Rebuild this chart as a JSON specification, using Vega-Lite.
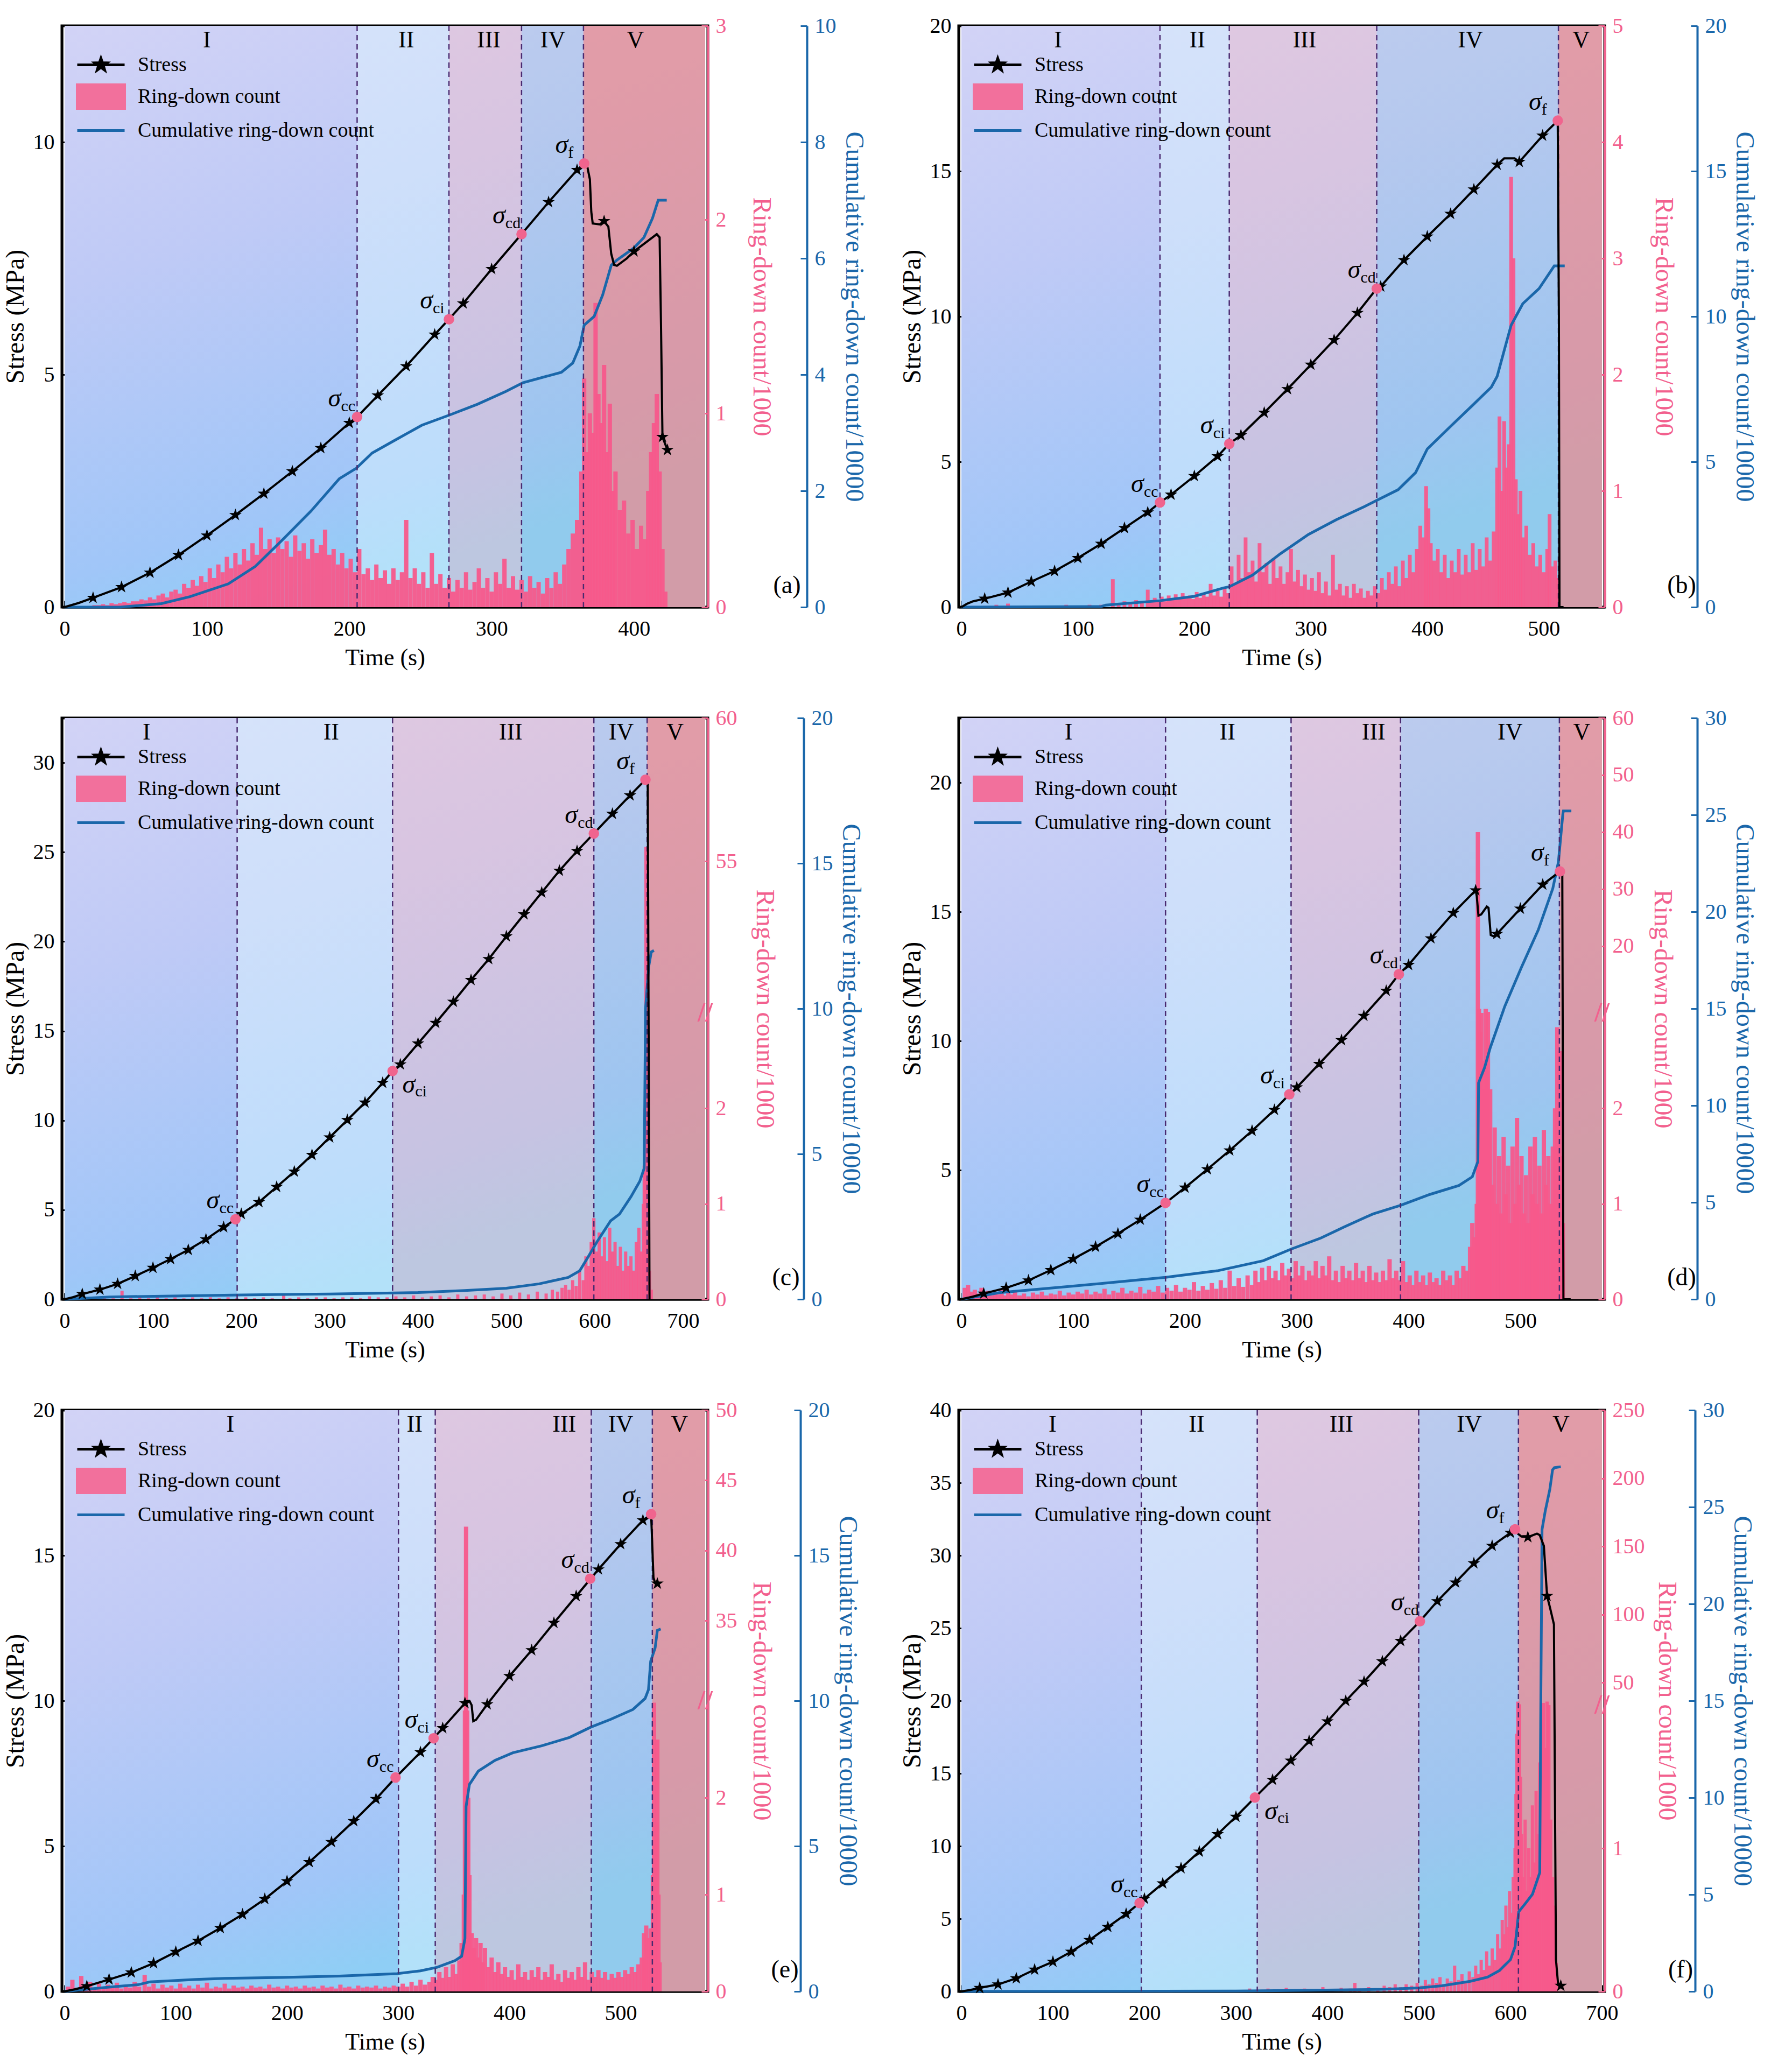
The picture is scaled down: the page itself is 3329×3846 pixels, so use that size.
{
  "$schema": "https://vega.github.io/schema/vega-lite/v6.json",
  "background": "white",
  "padding": {"left": 2, "top": 25, "right": 12, "bottom": 4},
  "columns": 2,
  "spacing": {"row": 64, "column": 56},
  "config": {
    "font": "Liberation Serif",
    "view": {"stroke": "black", "strokeWidth": 5},
    "axis": {
      "grid": false, "labelFontSize": 40, "titleFontSize": 44, "titleFontWeight": "normal",
      "domainWidth": 4, "tickWidth": 3, "tickSize": -12, "labelPadding": 26, "titlePadding": 8,
      "domainColor": "black", "tickColor": "black", "labelColor": "black", "titleColor": "black",
      "zindex": 1, "labelFlush": false, "labelOverlap": false
    },
    "axisX": {"labelPadding": 32, "titlePadding": 12},
    "axisY": {"titleFontSize": 48},
    "legend": {
      "orient": "top-left", "direction": "vertical", "offset": 40, "padding": 8, "title": null,
      "labelFontSize": 38, "labelColor": "black", "labelLimit": 1000, "symbolSize": 1936, "symbolStrokeWidth": 5,
      "symbolOpacity": 1, "labelOffset": 44, "rowPadding": 6, "zindex": 1
    },
    "text": {"fontSize": 46, "color": "black"}
  },
  "datasets": {
    "a_stage": [{"st":"I","t":0,"t2":205.5},{"st":"II","t":205.5,"t2":270},{"st":"III","t":270,"t2":321},{"st":"IV","t":321,"t2":364.5},{"st":"V","t":364.5,"t2":450}],
    "a_lab": [{"st":"I","t":100,"s":12.5},{"st":"II","t":240,"s":12.5},{"st":"III","t":298,"s":12.5},{"st":"IV","t":343,"s":12.5},{"st":"V","t":401,"s":12.5}],
    "a_sig": [{"k":"cc","t":205.5,"s":4.09},{"k":"ci","t":270,"s":6.19},{"k":"cd","t":321,"s":8.02},{"k":"f","t":365,"s":9.54}],
    "a_s": [{"t":0,"s":0},{"t":10,"s":0.09},{"t":20,"s":0.2},{"t":40,"s":0.43},{"t":60,"s":0.74},{"t":80,"s":1.12},{"t":100,"s":1.54},{"t":120,"s":1.98},{"t":140,"s":2.44},{"t":160,"s":2.92},{"t":180,"s":3.42},{"t":200,"s":3.96},{"t":205.5,"s":4.09},{"t":220,"s":4.55},{"t":240,"s":5.18},{"t":260,"s":5.86},{"t":270,"s":6.19},{"t":280,"s":6.53},{"t":300,"s":7.27},{"t":321,"s":8.02},{"t":340,"s":8.71},{"t":360,"s":9.4},{"t":365,"s":9.54},{"t":367,"s":9.5},{"t":369,"s":9.2},{"t":370,"s":8.5},{"t":371,"s":8.25},{"t":376,"s":8.23},{"t":379,"s":8.3},{"t":382,"s":8.18},{"t":384,"s":7.6},{"t":386,"s":7.36},{"t":388,"s":7.34},{"t":395,"s":7.5},{"t":400,"s":7.65},{"t":410,"s":7.88},{"t":416,"s":8.02},{"t":418,"s":7.95},{"t":419,"s":6.0},{"t":420,"s":3.66},{"t":423.5,"s":3.38}],
    "a_star": [{"t":20,"s":0.2},{"t":40,"s":0.43},{"t":60,"s":0.74},{"t":80,"s":1.12},{"t":100,"s":1.54},{"t":120,"s":1.98},{"t":140,"s":2.44},{"t":160,"s":2.92},{"t":180,"s":3.42},{"t":200,"s":3.96},{"t":220,"s":4.55},{"t":240,"s":5.18},{"t":260,"s":5.86},{"t":280,"s":6.53},{"t":300,"s":7.27},{"t":340,"s":8.71},{"t":360,"s":9.4},{"t":379,"s":8.3},{"t":400,"s":7.65},{"t":420,"s":3.66},{"t":423.5,"s":3.38}],
    "a_cum": [{"t":0,"c":0},{"t":39,"c":0},{"t":68,"c":0.06},{"t":88,"c":0.18},{"t":115,"c":0.4},{"t":134,"c":0.7},{"t":154,"c":1.18},{"t":173,"c":1.65},{"t":193,"c":2.21},{"t":205,"c":2.39},{"t":216,"c":2.65},{"t":232,"c":2.87},{"t":251,"c":3.13},{"t":271,"c":3.31},{"t":290,"c":3.49},{"t":310,"c":3.71},{"t":322,"c":3.86},{"t":349,"c":4.04},{"t":357,"c":4.2},{"t":362,"c":4.49},{"t":365,"c":4.85},{"t":372,"c":5.0},{"t":378,"c":5.37},{"t":384,"c":5.88},{"t":388,"c":5.97},{"t":400,"c":6.18},{"t":407,"c":6.36},{"t":413,"c":6.69},{"t":417,"c":7.0},{"t":423,"c":7.0}],
    "a_rd": [{"t":21,"r":0.01},{"t":24,"r":0.01},{"t":27,"r":0.015},{"t":30,"r":0.01},{"t":33,"r":0.02},{"t":36,"r":0.015},{"t":39,"r":0.02},{"t":42,"r":0.025},{"t":45,"r":0.02},{"t":48,"r":0.03},{"t":51,"r":0.03},{"t":54,"r":0.04},{"t":57,"r":0.035},{"t":60,"r":0.05},{"t":63,"r":0.04},{"t":66,"r":0.06},{"t":69,"r":0.07},{"t":72,"r":0.05},{"t":75,"r":0.08},{"t":78,"r":0.09},{"t":81,"r":0.07},{"t":84,"r":0.12},{"t":87,"r":0.1},{"t":90,"r":0.14},{"t":93,"r":0.11},{"t":96,"r":0.16},{"t":99,"r":0.13},{"t":102,"r":0.2},{"t":105,"r":0.15},{"t":108,"r":0.22},{"t":111,"r":0.18},{"t":114,"r":0.26},{"t":117,"r":0.2},{"t":120,"r":0.28},{"t":123,"r":0.22},{"t":126,"r":0.3},{"t":129,"r":0.24},{"t":132,"r":0.33},{"t":135,"r":0.27},{"t":138,"r":0.41},{"t":141,"r":0.3},{"t":144,"r":0.35},{"t":147,"r":0.28},{"t":150,"r":0.36},{"t":153,"r":0.3},{"t":156,"r":0.34},{"t":159,"r":0.26},{"t":162,"r":0.37},{"t":165,"r":0.29},{"t":168,"r":0.33},{"t":171,"r":0.25},{"t":174,"r":0.35},{"t":177,"r":0.28},{"t":180,"r":0.32},{"t":183,"r":0.4},{"t":186,"r":0.27},{"t":189,"r":0.3},{"t":192,"r":0.22},{"t":195,"r":0.28},{"t":198,"r":0.2},{"t":201,"r":0.25},{"t":204,"r":0.18},{"t":207,"r":0.3},{"t":210,"r":0.17},{"t":213,"r":0.2},{"t":216,"r":0.14},{"t":219,"r":0.22},{"t":222,"r":0.15},{"t":225,"r":0.19},{"t":228,"r":0.12},{"t":231,"r":0.2},{"t":234,"r":0.14},{"t":237,"r":0.18},{"t":240,"r":0.45},{"t":243,"r":0.15},{"t":246,"r":0.2},{"t":249,"r":0.12},{"t":252,"r":0.18},{"t":255,"r":0.1},{"t":258,"r":0.28},{"t":261,"r":0.12},{"t":264,"r":0.17},{"t":267,"r":0.1},{"t":270,"r":0.15},{"t":273,"r":0.08},{"t":276,"r":0.14},{"t":279,"r":0.1},{"t":282,"r":0.18},{"t":285,"r":0.09},{"t":288,"r":0.13},{"t":291,"r":0.2},{"t":294,"r":0.1},{"t":297,"r":0.15},{"t":300,"r":0.08},{"t":303,"r":0.18},{"t":306,"r":0.12},{"t":309,"r":0.25},{"t":312,"r":0.1},{"t":315,"r":0.16},{"t":318,"r":0.09},{"t":321,"r":0.14},{"t":324,"r":0.08},{"t":327,"r":0.16},{"t":330,"r":0.1},{"t":333,"r":0.13},{"t":336,"r":0.07},{"t":339,"r":0.15},{"t":342,"r":0.1},{"t":345,"r":0.18},{"t":348,"r":0.12},{"t":351,"r":0.22},{"t":354,"r":0.3},{"t":357,"r":0.38},{"t":360,"r":0.45},{"t":363,"r":0.7},{"t":365,"r":1.18},{"t":367,"r":0.8},{"t":369,"r":1.0},{"t":371,"r":0.9},{"t":373,"r":1.57},{"t":375,"r":1.1},{"t":377,"r":0.95},{"t":379,"r":1.25},{"t":381,"r":0.8},{"t":383,"r":1.05},{"t":385,"r":0.6},{"t":387,"r":0.7},{"t":390,"r":0.5},{"t":393,"r":0.55},{"t":396,"r":0.38},{"t":399,"r":0.45},{"t":402,"r":0.3},{"t":405,"r":0.42},{"t":408,"r":0.35},{"t":410,"r":0.6},{"t":412,"r":0.8},{"t":414,"r":0.95},{"t":416,"r":1.1},{"t":418,"r":0.7},{"t":420,"r":0.3},{"t":422,"r":0.08}],

    "b_stage": [{"st":"I","t":0,"t2":170.5},{"st":"II","t":170.5,"t2":230},{"st":"III","t":230,"t2":356.6},{"st":"IV","t":356.6,"t2":512.6},{"st":"V","t":512.6,"t2":550}],
    "b_lab": [{"st":"I","t":83,"s":20},{"st":"II","t":202.5,"s":20},{"st":"III","t":294.6,"s":20},{"st":"IV","t":437,"s":20},{"st":"V","t":532,"s":20}],
    "b_sig": [{"k":"cc","t":170.5,"s":3.6},{"k":"ci","t":230,"s":5.62},{"k":"cd","t":356.6,"s":10.96},{"k":"f","t":512,"s":16.74}],
    "b_s": [{"t":0,"s":0},{"t":5,"s":0.12},{"t":10,"s":0.2},{"t":20,"s":0.29},{"t":40,"s":0.5},{"t":60,"s":0.88},{"t":80,"s":1.24},{"t":100,"s":1.69},{"t":120,"s":2.18},{"t":140,"s":2.72},{"t":160,"s":3.26},{"t":170.5,"s":3.6},{"t":180,"s":3.87},{"t":200,"s":4.51},{"t":220,"s":5.19},{"t":230,"s":5.62},{"t":240,"s":5.91},{"t":260,"s":6.69},{"t":280,"s":7.5},{"t":300,"s":8.34},{"t":320,"s":9.19},{"t":340,"s":10.12},{"t":356.6,"s":10.96},{"t":360,"s":11.03},{"t":380,"s":11.94},{"t":400,"s":12.75},{"t":420,"s":13.53},{"t":440,"s":14.37},{"t":460,"s":15.22},{"t":466,"s":15.44},{"t":475,"s":15.44},{"t":479,"s":15.32},{"t":499,"s":16.22},{"t":512,"s":16.74},{"t":513,"s":10},{"t":513.5,"s":0},{"t":517,"s":0}],
    "b_star": [{"t":20,"s":0.29},{"t":40,"s":0.5},{"t":60,"s":0.88},{"t":80,"s":1.24},{"t":100,"s":1.69},{"t":120,"s":2.18},{"t":140,"s":2.72},{"t":160,"s":3.26},{"t":180,"s":3.87},{"t":200,"s":4.51},{"t":220,"s":5.19},{"t":240,"s":5.91},{"t":260,"s":6.69},{"t":280,"s":7.5},{"t":300,"s":8.34},{"t":320,"s":9.19},{"t":340,"s":10.12},{"t":360,"s":11.03},{"t":380,"s":11.94},{"t":400,"s":12.75},{"t":420,"s":13.53},{"t":440,"s":14.37},{"t":460,"s":15.22},{"t":479,"s":15.32},{"t":499,"s":16.22}],
    "b_cum": [{"t":0,"c":0},{"t":120,"c":0.02},{"t":124,"c":0.07},{"t":170,"c":0.22},{"t":200,"c":0.37},{"t":225,"c":0.66},{"t":230,"c":0.7},{"t":250,"c":1.1},{"t":274,"c":1.84},{"t":298,"c":2.5},{"t":322,"c":3.01},{"t":346,"c":3.46},{"t":357,"c":3.68},{"t":375,"c":4.04},{"t":390,"c":4.63},{"t":400,"c":5.44},{"t":419,"c":6.18},{"t":438,"c":6.91},{"t":455,"c":7.57},{"t":460,"c":7.94},{"t":467,"c":8.97},{"t":472,"c":9.7},{"t":482,"c":10.44},{"t":496,"c":10.96},{"t":509,"c":11.74},{"t":518,"c":11.74}],
    "b_rd": [{"t":10,"r":0.01},{"t":20,"r":0.01},{"t":30,"r":0.02},{"t":40,"r":0.03},{"t":50,"r":0.01},{"t":60,"r":0.01},{"t":70,"r":0.01},{"t":80,"r":0.01},{"t":90,"r":0.02},{"t":100,"r":0.01},{"t":110,"r":0.02},{"t":120,"r":0.02},{"t":130,"r":0.24},{"t":135,"r":0.03},{"t":140,"r":0.05},{"t":145,"r":0.03},{"t":150,"r":0.06},{"t":155,"r":0.04},{"t":160,"r":0.15},{"t":163,"r":0.05},{"t":166,"r":0.08},{"t":169,"r":0.06},{"t":172,"r":0.09},{"t":175,"r":0.05},{"t":178,"r":0.1},{"t":181,"r":0.06},{"t":184,"r":0.11},{"t":187,"r":0.07},{"t":190,"r":0.12},{"t":193,"r":0.08},{"t":196,"r":0.1},{"t":199,"r":0.07},{"t":202,"r":0.13},{"t":205,"r":0.08},{"t":208,"r":0.12},{"t":211,"r":0.09},{"t":214,"r":0.2},{"t":217,"r":0.1},{"t":220,"r":0.14},{"t":223,"r":0.09},{"t":226,"r":0.16},{"t":229,"r":0.12},{"t":232,"r":0.35},{"t":235,"r":0.2},{"t":238,"r":0.45},{"t":241,"r":0.25},{"t":244,"r":0.6},{"t":247,"r":0.3},{"t":250,"r":0.4},{"t":253,"r":0.22},{"t":256,"r":0.55},{"t":259,"r":0.3},{"t":262,"r":0.38},{"t":265,"r":0.2},{"t":268,"r":0.42},{"t":271,"r":0.25},{"t":274,"r":0.35},{"t":277,"r":0.2},{"t":280,"r":0.3},{"t":283,"r":0.5},{"t":286,"r":0.22},{"t":289,"r":0.32},{"t":292,"r":0.18},{"t":295,"r":0.28},{"t":298,"r":0.15},{"t":301,"r":0.25},{"t":304,"r":0.14},{"t":307,"r":0.3},{"t":310,"r":0.12},{"t":313,"r":0.22},{"t":316,"r":0.1},{"t":319,"r":0.45},{"t":322,"r":0.15},{"t":325,"r":0.2},{"t":328,"r":0.1},{"t":331,"r":0.18},{"t":334,"r":0.08},{"t":337,"r":0.2},{"t":340,"r":0.12},{"t":343,"r":0.16},{"t":346,"r":0.08},{"t":349,"r":0.14},{"t":352,"r":0.1},{"t":355,"r":0.18},{"t":358,"r":0.12},{"t":361,"r":0.25},{"t":364,"r":0.15},{"t":367,"r":0.3},{"t":370,"r":0.2},{"t":373,"r":0.35},{"t":376,"r":0.18},{"t":379,"r":0.4},{"t":382,"r":0.25},{"t":385,"r":0.45},{"t":388,"r":0.3},{"t":391,"r":0.5},{"t":394,"r":0.7},{"t":397,"r":0.6},{"t":399,"r":1.04},{"t":401,"r":0.85},{"t":403,"r":0.55},{"t":406,"r":0.4},{"t":409,"r":0.5},{"t":412,"r":0.3},{"t":415,"r":0.45},{"t":418,"r":0.25},{"t":421,"r":0.4},{"t":424,"r":0.3},{"t":427,"r":0.5},{"t":430,"r":0.28},{"t":433,"r":0.45},{"t":436,"r":0.3},{"t":439,"r":0.55},{"t":442,"r":0.32},{"t":445,"r":0.5},{"t":448,"r":0.35},{"t":451,"r":0.6},{"t":454,"r":0.4},{"t":457,"r":0.65},{"t":460,"r":1.2},{"t":462,"r":1.64},{"t":464,"r":1.0},{"t":466,"r":1.6},{"t":468,"r":1.2},{"t":470,"r":1.4},{"t":472,"r":3.7},{"t":474,"r":3.0},{"t":476,"r":1.1},{"t":478,"r":0.8},{"t":480,"r":1.0},{"t":482,"r":0.6},{"t":485,"r":0.7},{"t":488,"r":0.45},{"t":491,"r":0.55},{"t":494,"r":0.35},{"t":497,"r":0.45},{"t":500,"r":0.3},{"t":503,"r":0.5},{"t":505,"r":0.8},{"t":507,"r":0.35},{"t":510,"r":0.4},{"t":512,"r":0.25}],

    "c_stage": [{"st":"I","t":0,"t2":195.3},{"st":"II","t":195.3,"t2":371.2},{"st":"III","t":371.2,"t2":599},{"st":"IV","t":599,"t2":659.3},{"st":"V","t":659.3,"t2":725}],
    "c_lab": [{"st":"I","t":92.8,"s":32.5},{"st":"II","t":301.8,"s":32.5},{"st":"III","t":504.9,"s":32.5},{"st":"IV","t":630,"s":32.5},{"st":"V","t":691,"s":32.5}],
    "c_sig": [{"k":"cc","t":193.4,"s":4.47},{"k":"ci","t":371.2,"s":12.76},{"k":"cd","t":599,"s":26.04},{"k":"f","t":657.4,"s":29.05}],
    "c_s": [{"t":0,"s":0},{"t":10,"s":0.12},{"t":20,"s":0.29},{"t":40,"s":0.54},{"t":60,"s":0.86},{"t":80,"s":1.3},{"t":100,"s":1.76},{"t":120,"s":2.25},{"t":140,"s":2.76},{"t":160,"s":3.35},{"t":180,"s":4.03},{"t":193.4,"s":4.47},{"t":200,"s":4.77},{"t":220,"s":5.43},{"t":240,"s":6.28},{"t":260,"s":7.14},{"t":280,"s":8.07},{"t":300,"s":9.05},{"t":320,"s":10.02},{"t":340,"s":11.0},{"t":360,"s":12.1},{"t":371.2,"s":12.76},{"t":380,"s":13.13},{"t":400,"s":14.3},{"t":420,"s":15.45},{"t":440,"s":16.63},{"t":460,"s":17.85},{"t":480,"s":19.02},{"t":500,"s":20.29},{"t":520,"s":21.52},{"t":540,"s":22.74},{"t":560,"s":23.96},{"t":580,"s":25.06},{"t":599,"s":26.04},{"t":620,"s":27.14},{"t":640,"s":28.17},{"t":657.4,"s":29.05},{"t":660,"s":28.9},{"t":661,"s":15},{"t":662,"s":0}],
    "c_star": [{"t":20,"s":0.29},{"t":40,"s":0.54},{"t":60,"s":0.86},{"t":80,"s":1.3},{"t":100,"s":1.76},{"t":120,"s":2.25},{"t":140,"s":2.76},{"t":160,"s":3.35},{"t":180,"s":4.03},{"t":200,"s":4.77},{"t":220,"s":5.43},{"t":240,"s":6.28},{"t":260,"s":7.14},{"t":280,"s":8.07},{"t":300,"s":9.05},{"t":320,"s":10.02},{"t":340,"s":11.0},{"t":360,"s":12.1},{"t":380,"s":13.13},{"t":400,"s":14.3},{"t":420,"s":15.45},{"t":440,"s":16.63},{"t":460,"s":17.85},{"t":480,"s":19.02},{"t":500,"s":20.29},{"t":520,"s":21.52},{"t":540,"s":22.74},{"t":560,"s":23.96},{"t":580,"s":25.06},{"t":620,"s":27.14},{"t":640,"s":28.17}],
    "c_cum": [{"t":0,"c":0},{"t":51,"c":0.08},{"t":200,"c":0.15},{"t":300,"c":0.18},{"t":400,"c":0.23},{"t":453,"c":0.3},{"t":500,"c":0.38},{"t":537,"c":0.53},{"t":570,"c":0.75},{"t":583,"c":0.98},{"t":592,"c":1.43},{"t":602,"c":1.95},{"t":618,"c":2.7},{"t":628,"c":2.93},{"t":641,"c":3.53},{"t":651,"c":4.06},{"t":656,"c":4.51},{"t":657.5,"c":10.0},{"t":661,"c":11.43},{"t":664,"c":11.95},{"t":667,"c":12.0}],
    "c_rd": [{"t":5,"r":0.01},{"t":15,"r":0.01},{"t":25,"r":0.02},{"t":35,"r":0.01},{"t":45,"r":0.02},{"t":55,"r":0.01},{"t":65,"r":0.09},{"t":75,"r":0.01},{"t":85,"r":0.02},{"t":95,"r":0.01},{"t":105,"r":0.02},{"t":115,"r":0.01},{"t":125,"r":0.02},{"t":135,"r":0.01},{"t":145,"r":0.02},{"t":155,"r":0.01},{"t":165,"r":0.02},{"t":175,"r":0.01},{"t":185,"r":0.02},{"t":195,"r":0.01},{"t":205,"r":0.02},{"t":215,"r":0.01},{"t":225,"r":0.02},{"t":235,"r":0.01},{"t":248,"r":0.05},{"t":255,"r":0.01},{"t":265,"r":0.02},{"t":275,"r":0.01},{"t":285,"r":0.02},{"t":295,"r":0.02},{"t":305,"r":0.01},{"t":315,"r":0.02},{"t":325,"r":0.02},{"t":335,"r":0.01},{"t":345,"r":0.03},{"t":355,"r":0.02},{"t":365,"r":0.02},{"t":375,"r":0.03},{"t":385,"r":0.02},{"t":395,"r":0.04},{"t":405,"r":0.02},{"t":415,"r":0.03},{"t":425,"r":0.04},{"t":435,"r":0.02},{"t":445,"r":0.05},{"t":455,"r":0.03},{"t":465,"r":0.04},{"t":475,"r":0.05},{"t":485,"r":0.03},{"t":495,"r":0.06},{"t":505,"r":0.04},{"t":515,"r":0.07},{"t":525,"r":0.05},{"t":535,"r":0.08},{"t":545,"r":0.06},{"t":552,"r":0.1},{"t":558,"r":0.08},{"t":563,"r":0.12},{"t":567,"r":0.15},{"t":571,"r":0.1},{"t":575,"r":0.2},{"t":579,"r":0.14},{"t":583,"r":0.3},{"t":587,"r":0.2},{"t":590,"r":0.45},{"t":593,"r":0.35},{"t":596,"r":0.6},{"t":599,"r":0.85},{"t":602,"r":0.5},{"t":605,"r":0.7},{"t":608,"r":0.45},{"t":611,"r":0.65},{"t":614,"r":0.4},{"t":617,"r":0.75},{"t":620,"r":0.5},{"t":623,"r":0.6},{"t":626,"r":0.35},{"t":629,"r":0.55},{"t":632,"r":0.3},{"t":635,"r":0.5},{"t":638,"r":0.35},{"t":641,"r":0.45},{"t":644,"r":0.3},{"t":647,"r":0.6},{"t":650,"r":0.75},{"t":653,"r":0.5},{"t":655,"r":1.0},{"t":656,"r":1.4},{"t":657,"r":2.0},{"t":658,"r":55.5},{"t":659,"r":20},{"t":660,"r":1.2},{"t":662,"r":0.3},{"t":664,"r":0.1}],

    "d_stage": [{"st":"I","t":0,"t2":182.6},{"st":"II","t":182.6,"t2":294.9},{"st":"III","t":294.9,"t2":392.8},{"st":"IV","t":392.8,"t2":534.9},{"st":"V","t":534.9,"t2":573}],
    "d_lab": [{"st":"I","t":95.9,"s":22.5},{"st":"II","t":238,"s":22.5},{"st":"III","t":368.7,"s":22.5},{"st":"IV","t":490.8,"s":22.5},{"st":"V","t":554.9,"s":22.5}],
    "d_sig": [{"k":"cc","t":182.6,"s":3.73},{"k":"ci","t":293.3,"s":7.93},{"k":"cd","t":391.3,"s":12.58},{"k":"f","t":535.4,"s":16.56}],
    "d_s": [{"t":0,"s":0},{"t":10,"s":0.1},{"t":20,"s":0.22},{"t":40,"s":0.44},{"t":60,"s":0.73},{"t":80,"s":1.13},{"t":100,"s":1.56},{"t":120,"s":2.03},{"t":140,"s":2.54},{"t":160,"s":3.08},{"t":182.6,"s":3.73},{"t":200,"s":4.32},{"t":220,"s":5.03},{"t":240,"s":5.76},{"t":260,"s":6.52},{"t":280,"s":7.33},{"t":293.3,"s":7.93},{"t":300,"s":8.2},{"t":320,"s":9.11},{"t":340,"s":10.03},{"t":360,"s":10.97},{"t":380,"s":11.94},{"t":391.3,"s":12.58},{"t":400,"s":12.94},{"t":420,"s":13.97},{"t":440,"s":14.95},{"t":460,"s":15.83},{"t":461,"s":15.6},{"t":462.5,"s":14.85},{"t":465,"s":14.9},{"t":470,"s":15.2},{"t":471.5,"s":15.15},{"t":473.5,"s":14.1},{"t":476,"s":14.05},{"t":479,"s":14.14},{"t":500,"s":15.12},{"t":520,"s":16.05},{"t":535.4,"s":16.56},{"t":537.5,"s":16.5},{"t":538.5,"s":0},{"t":545,"s":0}],
    "d_star": [{"t":20,"s":0.22},{"t":40,"s":0.44},{"t":60,"s":0.73},{"t":80,"s":1.13},{"t":100,"s":1.56},{"t":120,"s":2.03},{"t":140,"s":2.54},{"t":160,"s":3.08},{"t":200,"s":4.32},{"t":220,"s":5.03},{"t":240,"s":5.76},{"t":260,"s":6.52},{"t":280,"s":7.33},{"t":300,"s":8.2},{"t":320,"s":9.11},{"t":340,"s":10.03},{"t":360,"s":10.97},{"t":380,"s":11.94},{"t":400,"s":12.94},{"t":420,"s":13.97},{"t":440,"s":14.95},{"t":460,"s":15.83},{"t":479,"s":14.14},{"t":500,"s":15.12},{"t":520,"s":16.05}],
    "d_cum": [{"t":0,"c":0},{"t":34,"c":0.34},{"t":100,"c":0.68},{"t":182.6,"c":1.13},{"t":229,"c":1.47},{"t":270,"c":1.99},{"t":295,"c":2.59},{"t":321.5,"c":3.16},{"t":342,"c":3.72},{"t":368,"c":4.4},{"t":393,"c":4.85},{"t":419,"c":5.41},{"t":445,"c":5.87},{"t":457,"c":6.32},{"t":462,"c":7.11},{"t":462.6,"c":11.17},{"t":468,"c":11.96},{"t":473,"c":12.97},{"t":486,"c":15.11},{"t":501,"c":17.14},{"t":516,"c":19.06},{"t":529,"c":21.2},{"t":534,"c":22.56},{"t":538,"c":25.04},{"t":538.5,"c":25.2},{"t":545.6,"c":25.2}],
    "d_rd": [{"t":3,"r":0.12},{"t":6,"r":0.15},{"t":9,"r":0.08},{"t":12,"r":0.1},{"t":15,"r":0.06},{"t":18,"r":0.12},{"t":21,"r":0.05},{"t":24,"r":0.09},{"t":27,"r":0.04},{"t":30,"r":0.08},{"t":33,"r":0.05},{"t":36,"r":0.1},{"t":39,"r":0.04},{"t":42,"r":0.07},{"t":45,"r":0.05},{"t":48,"r":0.09},{"t":52,"r":0.04},{"t":56,"r":0.06},{"t":60,"r":0.03},{"t":64,"r":0.07},{"t":68,"r":0.05},{"t":72,"r":0.08},{"t":76,"r":0.04},{"t":80,"r":0.06},{"t":84,"r":0.05},{"t":88,"r":0.09},{"t":92,"r":0.04},{"t":96,"r":0.07},{"t":100,"r":0.05},{"t":104,"r":0.08},{"t":108,"r":0.06},{"t":112,"r":0.1},{"t":116,"r":0.05},{"t":120,"r":0.08},{"t":124,"r":0.06},{"t":128,"r":0.11},{"t":132,"r":0.05},{"t":136,"r":0.09},{"t":140,"r":0.07},{"t":144,"r":0.12},{"t":148,"r":0.06},{"t":152,"r":0.09},{"t":156,"r":0.07},{"t":160,"r":0.13},{"t":164,"r":0.06},{"t":168,"r":0.1},{"t":172,"r":0.08},{"t":176,"r":0.14},{"t":180,"r":0.07},{"t":184,"r":0.12},{"t":188,"r":0.09},{"t":192,"r":0.15},{"t":196,"r":0.08},{"t":200,"r":0.12},{"t":204,"r":0.1},{"t":208,"r":0.18},{"t":212,"r":0.09},{"t":216,"r":0.14},{"t":220,"r":0.1},{"t":224,"r":0.17},{"t":228,"r":0.11},{"t":232,"r":0.2},{"t":236,"r":0.12},{"t":240,"r":0.3},{"t":244,"r":0.14},{"t":248,"r":0.22},{"t":252,"r":0.13},{"t":256,"r":0.25},{"t":260,"r":0.15},{"t":263,"r":0.3},{"t":266,"r":0.18},{"t":269,"r":0.33},{"t":272,"r":0.2},{"t":275,"r":0.35},{"t":278,"r":0.22},{"t":281,"r":0.3},{"t":284,"r":0.2},{"t":287,"r":0.38},{"t":290,"r":0.25},{"t":293,"r":0.32},{"t":296,"r":0.22},{"t":299,"r":0.4},{"t":302,"r":0.25},{"t":305,"r":0.35},{"t":308,"r":0.2},{"t":311,"r":0.3},{"t":314,"r":0.25},{"t":317,"r":0.4},{"t":320,"r":0.22},{"t":323,"r":0.35},{"t":326,"r":0.25},{"t":329,"r":0.45},{"t":332,"r":0.2},{"t":335,"r":0.3},{"t":338,"r":0.18},{"t":341,"r":0.35},{"t":344,"r":0.22},{"t":347,"r":0.3},{"t":350,"r":0.2},{"t":353,"r":0.38},{"t":356,"r":0.22},{"t":359,"r":0.3},{"t":362,"r":0.18},{"t":365,"r":0.35},{"t":368,"r":0.2},{"t":371,"r":0.28},{"t":374,"r":0.18},{"t":377,"r":0.3},{"t":380,"r":0.2},{"t":383,"r":0.42},{"t":386,"r":0.22},{"t":389,"r":0.3},{"t":392,"r":0.2},{"t":395,"r":0.4},{"t":398,"r":0.18},{"t":401,"r":0.25},{"t":404,"r":0.15},{"t":407,"r":0.3},{"t":410,"r":0.18},{"t":413,"r":0.25},{"t":416,"r":0.15},{"t":419,"r":0.28},{"t":422,"r":0.18},{"t":425,"r":0.22},{"t":428,"r":0.15},{"t":431,"r":0.3},{"t":434,"r":0.2},{"t":437,"r":0.25},{"t":440,"r":0.15},{"t":443,"r":0.3},{"t":446,"r":0.22},{"t":449,"r":0.35},{"t":452,"r":0.3},{"t":455,"r":0.55},{"t":457,"r":0.8},{"t":459,"r":0.65},{"t":461,"r":1.0},{"t":462,"r":40},{"t":463,"r":9},{"t":464,"r":2.8},{"t":465,"r":5},{"t":466,"r":2.2},{"t":467,"r":2.5},{"t":468,"r":1.6},{"t":469,"r":9},{"t":470,"r":2.4},{"t":471,"r":8.5},{"t":472,"r":1.8},{"t":473,"r":2.2},{"t":475,"r":1.2},{"t":477,"r":1.8},{"t":479,"r":1.0},{"t":481,"r":1.5},{"t":483,"r":0.9},{"t":485,"r":1.7},{"t":487,"r":1.1},{"t":489,"r":1.4},{"t":491,"r":0.8},{"t":493,"r":1.6},{"t":495,"r":1.0},{"t":497,"r":1.9},{"t":499,"r":1.2},{"t":501,"r":1.5},{"t":503,"r":0.9},{"t":505,"r":1.3},{"t":507,"r":0.8},{"t":509,"r":1.6},{"t":511,"r":1.1},{"t":513,"r":1.7},{"t":515,"r":1.0},{"t":517,"r":1.4},{"t":519,"r":0.9},{"t":521,"r":1.77},{"t":523,"r":1.2},{"t":525,"r":1.5},{"t":527,"r":1.0},{"t":529,"r":1.6},{"t":531,"r":2.0},{"t":533,"r":2.85},{"t":535,"r":2.6},{"t":537,"r":1.5},{"t":538,"r":0.8}],

    "e_stage": [{"st":"I","t":0,"t2":300.2},{"st":"II","t":300.2,"t2":333.3},{"st":"III","t":333.3,"t2":473.6},{"st":"IV","t":473.6,"t2":528.5},{"st":"V","t":528.5,"t2":576}],
    "e_lab": [{"st":"I","t":149,"s":20},{"st":"II","t":314.7,"s":20},{"st":"III","t":449.3,"s":20},{"st":"IV","t":500,"s":20},{"st":"V","t":552.8,"s":20}],
    "e_sig": [{"k":"cc","t":297.6,"s":7.36},{"k":"ci","t":331.8,"s":8.71},{"k":"cd","t":472.6,"s":14.2},{"k":"f","t":527.4,"s":16.42}],
    "e_s": [{"t":0,"s":0},{"t":10,"s":0.08},{"t":20,"s":0.18},{"t":40,"s":0.41},{"t":60,"s":0.65},{"t":80,"s":0.97},{"t":100,"s":1.36},{"t":120,"s":1.74},{"t":140,"s":2.18},{"t":160,"s":2.65},{"t":180,"s":3.18},{"t":200,"s":3.79},{"t":220,"s":4.45},{"t":240,"s":5.14},{"t":260,"s":5.86},{"t":280,"s":6.62},{"t":297.6,"s":7.36},{"t":320,"s":8.23},{"t":331.8,"s":8.71},{"t":340,"s":9.06},{"t":360,"s":9.92},{"t":362,"s":10.0},{"t":364,"s":10.0},{"t":366,"s":9.85},{"t":367.5,"s":9.3},{"t":370,"s":9.35},{"t":380,"s":9.88},{"t":400,"s":10.85},{"t":420,"s":11.74},{"t":440,"s":12.68},{"t":460,"s":13.6},{"t":480,"s":14.52},{"t":500,"s":15.39},{"t":520,"s":16.21},{"t":527.4,"s":16.42},{"t":529.5,"s":14.24},{"t":531,"s":14.06},{"t":533,"s":14.03}],
    "e_star": [{"t":20,"s":0.18},{"t":40,"s":0.41},{"t":60,"s":0.65},{"t":80,"s":0.97},{"t":100,"s":1.36},{"t":120,"s":1.74},{"t":140,"s":2.18},{"t":160,"s":2.65},{"t":180,"s":3.18},{"t":200,"s":3.79},{"t":220,"s":4.45},{"t":240,"s":5.14},{"t":260,"s":5.86},{"t":280,"s":6.62},{"t":320,"s":8.23},{"t":340,"s":9.06},{"t":360,"s":9.92},{"t":380,"s":9.88},{"t":400,"s":10.85},{"t":420,"s":11.74},{"t":440,"s":12.68},{"t":460,"s":13.6},{"t":480,"s":14.52},{"t":500,"s":15.39},{"t":520,"s":16.21},{"t":533,"s":14.03}],
    "e_cum": [{"t":0,"c":0},{"t":40,"c":0.15},{"t":66,"c":0.23},{"t":77,"c":0.33},{"t":118,"c":0.41},{"t":144,"c":0.45},{"t":196,"c":0.48},{"t":247,"c":0.53},{"t":299,"c":0.61},{"t":320,"c":0.71},{"t":335,"c":0.83},{"t":351,"c":1.06},{"t":357,"c":1.21},{"t":360,"c":1.82},{"t":361,"c":6.36},{"t":364,"c":7.12},{"t":372,"c":7.58},{"t":387,"c":7.95},{"t":403,"c":8.21},{"t":429,"c":8.45},{"t":454,"c":8.74},{"t":473,"c":9.09},{"t":491,"c":9.36},{"t":511,"c":9.7},{"t":522,"c":10.08},{"t":525,"c":10.38},{"t":527,"c":11.36},{"t":531,"c":11.82},{"t":533,"c":12.42},{"t":536,"c":12.47}],
    "e_rd": [{"t":3,"r":0.05},{"t":7,"r":0.12},{"t":11,"r":0.04},{"t":15,"r":0.16},{"t":19,"r":0.05},{"t":23,"r":0.1},{"t":27,"r":0.04},{"t":31,"r":0.08},{"t":35,"r":0.03},{"t":39,"r":0.07},{"t":43,"r":0.04},{"t":47,"r":0.09},{"t":51,"r":0.03},{"t":55,"r":0.06},{"t":59,"r":0.04},{"t":63,"r":0.1},{"t":67,"r":0.05},{"t":72,"r":0.17},{"t":76,"r":0.05},{"t":80,"r":0.08},{"t":84,"r":0.03},{"t":88,"r":0.07},{"t":92,"r":0.04},{"t":96,"r":0.06},{"t":100,"r":0.03},{"t":104,"r":0.08},{"t":108,"r":0.04},{"t":112,"r":0.06},{"t":116,"r":0.03},{"t":120,"r":0.07},{"t":124,"r":0.04},{"t":128,"r":0.09},{"t":132,"r":0.03},{"t":136,"r":0.05},{"t":140,"r":0.04},{"t":144,"r":0.08},{"t":148,"r":0.03},{"t":152,"r":0.06},{"t":156,"r":0.04},{"t":160,"r":0.05},{"t":164,"r":0.03},{"t":168,"r":0.06},{"t":172,"r":0.04},{"t":176,"r":0.05},{"t":180,"r":0.03},{"t":184,"r":0.07},{"t":188,"r":0.04},{"t":192,"r":0.05},{"t":196,"r":0.03},{"t":200,"r":0.06},{"t":204,"r":0.04},{"t":208,"r":0.05},{"t":212,"r":0.03},{"t":216,"r":0.06},{"t":220,"r":0.04},{"t":224,"r":0.05},{"t":228,"r":0.03},{"t":232,"r":0.06},{"t":236,"r":0.04},{"t":240,"r":0.05},{"t":244,"r":0.03},{"t":248,"r":0.07},{"t":252,"r":0.04},{"t":256,"r":0.05},{"t":260,"r":0.03},{"t":264,"r":0.06},{"t":268,"r":0.04},{"t":272,"r":0.05},{"t":276,"r":0.04},{"t":280,"r":0.06},{"t":284,"r":0.03},{"t":288,"r":0.05},{"t":292,"r":0.04},{"t":296,"r":0.06},{"t":300,"r":0.05},{"t":304,"r":0.08},{"t":308,"r":0.05},{"t":312,"r":0.1},{"t":316,"r":0.06},{"t":320,"r":0.12},{"t":324,"r":0.07},{"t":328,"r":0.1},{"t":331,"r":0.15},{"t":334,"r":0.12},{"t":337,"r":0.2},{"t":340,"r":0.14},{"t":343,"r":0.25},{"t":346,"r":0.15},{"t":349,"r":0.28},{"t":352,"r":0.18},{"t":355,"r":0.32},{"t":357,"r":0.5},{"t":359,"r":1.0},{"t":360,"r":2.9},{"t":361,"r":41.7},{"t":362,"r":2.9},{"t":363,"r":2.0},{"t":364,"r":1.2},{"t":366,"r":0.6},{"t":368,"r":0.45},{"t":370,"r":0.55},{"t":372,"r":0.35},{"t":374,"r":0.5},{"t":376,"r":0.3},{"t":378,"r":0.45},{"t":381,"r":0.25},{"t":384,"r":0.35},{"t":387,"r":0.2},{"t":390,"r":0.3},{"t":393,"r":0.18},{"t":396,"r":0.25},{"t":399,"r":0.15},{"t":402,"r":0.22},{"t":405,"r":0.12},{"t":408,"r":0.28},{"t":411,"r":0.15},{"t":414,"r":0.2},{"t":417,"r":0.12},{"t":420,"r":0.22},{"t":423,"r":0.15},{"t":426,"r":0.25},{"t":429,"r":0.12},{"t":432,"r":0.2},{"t":435,"r":0.15},{"t":438,"r":0.28},{"t":441,"r":0.12},{"t":444,"r":0.18},{"t":447,"r":0.1},{"t":450,"r":0.22},{"t":453,"r":0.14},{"t":456,"r":0.2},{"t":459,"r":0.12},{"t":462,"r":0.25},{"t":465,"r":0.15},{"t":468,"r":0.3},{"t":471,"r":0.12},{"t":474,"r":0.2},{"t":477,"r":0.15},{"t":480,"r":0.22},{"t":483,"r":0.14},{"t":486,"r":0.2},{"t":489,"r":0.12},{"t":492,"r":0.18},{"t":495,"r":0.14},{"t":498,"r":0.2},{"t":501,"r":0.15},{"t":504,"r":0.22},{"t":507,"r":0.18},{"t":510,"r":0.25},{"t":513,"r":0.2},{"t":516,"r":0.28},{"t":519,"r":0.35},{"t":521,"r":0.6},{"t":523,"r":0.68},{"t":525,"r":0.55},{"t":527,"r":0.65},{"t":529,"r":1.2},{"t":530,"r":2.98},{"t":531,"r":1.5},{"t":532,"r":1.74},{"t":533,"r":2.6},{"t":534,"r":1.0},{"t":535,"r":0.3}],

    "f_stage": [{"st":"I","t":0,"t2":196.6},{"st":"II","t":196.6,"t2":323.3},{"st":"III","t":323.3,"t2":499.7},{"st":"IV","t":499.7,"t2":608.7},{"st":"V","t":608.7,"t2":700}],
    "f_lab": [{"st":"I","t":99.6,"s":40},{"st":"II","t":257,"s":40},{"st":"III","t":415.2,"s":40},{"st":"IV","t":555,"s":40},{"st":"V","t":655.3,"s":40}],
    "f_sig": [{"k":"cc","t":194.7,"s":6.08},{"k":"ci","t":320.7,"s":13.34},{"k":"cd","t":501,"s":25.47},{"k":"f","t":605,"s":31.8}],
    "f_s": [{"t":0,"s":0},{"t":10,"s":0.1},{"t":20,"s":0.24},{"t":40,"s":0.48},{"t":60,"s":0.9},{"t":80,"s":1.5},{"t":100,"s":2.04},{"t":120,"s":2.73},{"t":140,"s":3.54},{"t":160,"s":4.43},{"t":180,"s":5.33},{"t":194.7,"s":6.08},{"t":200,"s":6.38},{"t":220,"s":7.43},{"t":240,"s":8.48},{"t":260,"s":9.62},{"t":280,"s":10.82},{"t":300,"s":12.02},{"t":320.7,"s":13.34},{"t":340,"s":14.56},{"t":360,"s":15.88},{"t":380,"s":17.23},{"t":400,"s":18.58},{"t":420,"s":19.99},{"t":440,"s":21.31},{"t":460,"s":22.71},{"t":480,"s":24.12},{"t":501,"s":25.47},{"t":520,"s":26.85},{"t":540,"s":28.14},{"t":560,"s":29.46},{"t":580,"s":30.66},{"t":600,"s":31.56},{"t":605,"s":31.8},{"t":608,"s":31.5},{"t":612,"s":31.3},{"t":619,"s":31.26},{"t":629,"s":31.5},{"t":632,"s":31.4},{"t":636.5,"s":30.66},{"t":640,"s":27.21},{"t":643,"s":26.46},{"t":647.5,"s":25.26},{"t":649.7,"s":2.19},{"t":652,"s":0.54},{"t":655,"s":0.39}],
    "f_star": [{"t":20,"s":0.24},{"t":40,"s":0.48},{"t":60,"s":0.9},{"t":80,"s":1.5},{"t":100,"s":2.04},{"t":120,"s":2.73},{"t":140,"s":3.54},{"t":160,"s":4.43},{"t":180,"s":5.33},{"t":200,"s":6.38},{"t":220,"s":7.43},{"t":240,"s":8.48},{"t":260,"s":9.62},{"t":280,"s":10.82},{"t":300,"s":12.02},{"t":340,"s":14.56},{"t":360,"s":15.88},{"t":380,"s":17.23},{"t":400,"s":18.58},{"t":420,"s":19.99},{"t":440,"s":21.31},{"t":460,"s":22.71},{"t":480,"s":24.12},{"t":520,"s":26.85},{"t":540,"s":28.14},{"t":560,"s":29.46},{"t":580,"s":30.66},{"t":600,"s":31.56},{"t":619,"s":31.26},{"t":640,"s":27.21},{"t":655,"s":0.39}],
    "f_cum": [{"t":0,"c":0},{"t":300,"c":0.02},{"t":400,"c":0.07},{"t":462,"c":0.11},{"t":500,"c":0.18},{"t":525,"c":0.29},{"t":556,"c":0.52},{"t":575,"c":0.74},{"t":588,"c":1.08},{"t":600,"c":1.64},{"t":605,"c":2.31},{"t":609,"c":4.11},{"t":616,"c":4.52},{"t":624,"c":5.01},{"t":632,"c":6.13},{"t":633,"c":13.78},{"t":634.5,"c":23.84},{"t":638,"c":24.79},{"t":643,"c":25.91},{"t":646,"c":26.92},{"t":648,"c":27.03},{"t":655,"c":27.08}],
    "f_rd": [{"t":10,"r":0.005},{"t":30,"r":0.005},{"t":50,"r":0.005},{"t":70,"r":0.005},{"t":90,"r":0.005},{"t":110,"r":0.005},{"t":130,"r":0.005},{"t":150,"r":0.005},{"t":170,"r":0.005},{"t":190,"r":0.005},{"t":210,"r":0.005},{"t":230,"r":0.005},{"t":250,"r":0.005},{"t":270,"r":0.01},{"t":290,"r":0.005},{"t":305,"r":0.01},{"t":315,"r":0.02},{"t":325,"r":0.01},{"t":335,"r":0.02},{"t":345,"r":0.01},{"t":355,"r":0.025},{"t":365,"r":0.01},{"t":375,"r":0.02},{"t":385,"r":0.015},{"t":395,"r":0.03},{"t":405,"r":0.015},{"t":415,"r":0.025},{"t":425,"r":0.02},{"t":430,"r":0.06},{"t":435,"r":0.02},{"t":445,"r":0.03},{"t":455,"r":0.02},{"t":462,"r":0.04},{"t":468,"r":0.03},{"t":474,"r":0.05},{"t":480,"r":0.03},{"t":486,"r":0.05},{"t":492,"r":0.04},{"t":498,"r":0.06},{"t":503,"r":0.04},{"t":507,"r":0.08},{"t":511,"r":0.05},{"t":515,"r":0.09},{"t":519,"r":0.06},{"t":523,"r":0.1},{"t":527,"r":0.05},{"t":531,"r":0.09},{"t":535,"r":0.07},{"t":539,"r":0.18},{"t":543,"r":0.08},{"t":547,"r":0.12},{"t":551,"r":0.07},{"t":555,"r":0.14},{"t":559,"r":0.1},{"t":562,"r":0.18},{"t":565,"r":0.12},{"t":568,"r":0.22},{"t":571,"r":0.15},{"t":574,"r":0.28},{"t":577,"r":0.18},{"t":580,"r":0.3},{"t":583,"r":0.22},{"t":586,"r":0.4},{"t":589,"r":0.3},{"t":591,"r":0.5},{"t":593,"r":0.4},{"t":595,"r":0.6},{"t":597,"r":0.45},{"t":599,"r":0.7},{"t":601,"r":0.55},{"t":603,"r":0.8},{"t":605,"r":1.0},{"t":606,"r":1.38},{"t":607,"r":1.8},{"t":608,"r":36},{"t":609,"r":2.0},{"t":610,"r":34},{"t":611,"r":1.5},{"t":612,"r":1.1},{"t":614,"r":0.8},{"t":616,"r":1.2},{"t":618,"r":0.7},{"t":620,"r":1.0},{"t":622,"r":0.8},{"t":624,"r":1.3},{"t":626,"r":0.9},{"t":628,"r":1.4},{"t":630,"r":1.1},{"t":632,"r":1.6},{"t":634,"r":1.9},{"t":636,"r":35},{"t":638,"r":1.7},{"t":640,"r":36},{"t":642,"r":2.0},{"t":644,"r":1.2},{"t":646,"r":0.8},{"t":648,"r":0.6},{"t":650,"r":0.2}]
  },
  "resolve": {"legend": {"fill": "independent", "stroke": "independent", "shape": "independent"}},
  "concat": [
    {
      "width": 1200, "height": 1080,
      "encoding": {"x": {"field": "t", "type": "quantitative", "scale": {"domain": [0, 450], "nice": false, "zero": false}, "axis": {"title": "Time (s)", "values": [0, 100, 200, 300, 400]}}},
      "layer": [
        {"data": {"values": [{"t": 0, "t2": 450}]}, "mark": {"type": "rect", "fill": {"gradient": "linear", "x1": 0, "y1": 0, "x2": 0.35, "y2": 1, "stops": [{"offset": 0, "color": "#d2d3f6"}, {"offset": 0.4, "color": "#bfcaf6"}, {"offset": 0.85, "color": "#a0c6f8"}, {"offset": 1, "color": "#8fcef5"}]}}, "encoding": {"x2": {"field": "t2"}}},
        {"data": {"name": "a_stage"}, "mark": "rect", "encoding": {"x2": {"field": "t2"}, "color": {"field": "st", "type": "nominal", "scale": {"domain": ["I", "II", "III", "IV", "V"], "range": ["rgba(255,255,255,0)", "rgba(225,248,255,0.45)", "rgba(246,190,200,0.45)", "rgba(150,195,215,0.25)", "rgba(238,135,135,0.7)"]}, "legend": null}}},
        {"layer": [{"data": {"name": "a_rd"}, "mark": {"type": "bar", "size": 8, "color": "#f7598b", "opacity": 0.95}}],
         "encoding": {"y": {"field": "r", "type": "quantitative", "scale": {"domain": [0, 3], "nice": false, "zero": false}, "axis": {"title": "Ring-down count/1000", "orient": "right", "values": [0, 1, 2, 3], "domainColor": "#f2608e", "tickColor": "#f2608e", "labelColor": "#f2608e", "titleColor": "#f2608e", "titlePadding": 40}}}},
        {"data": {"name": "a_cum"}, "mark": {"type": "line", "color": "#1a67aa", "strokeWidth": 5}, "encoding": {"y": {"field": "c", "type": "quantitative", "scale": {"domain": [0, 10], "nice": false, "zero": false}, "axis": {"title": "Cumulative ring-down count/10000", "orient": "right", "offset": 184, "values": [0, 2, 4, 6, 8, 10], "domainColor": "#1a67aa", "tickColor": "#1a67aa", "labelColor": "#1a67aa", "titleColor": "#1a67aa"}}}},
        {"data": {"name": "a_stage"}, "transform": [{"filter": "datum.t > 0"}], "mark": {"type": "rule", "color": "#4a2a70", "strokeDash": [10, 7], "strokeWidth": 2.5}},
        {"layer": [
          {"data": {"name": "a_s"}, "mark": {"type": "line", "color": "black", "strokeWidth": 4}},
          {"data": {"name": "a_star"}, "mark": {"type": "point", "shape": "M0,-1L0.224,-0.309L0.951,-0.309L0.363,0.118L0.588,0.809L0,0.382L-0.588,0.809L-0.363,0.118L-0.951,-0.309L-0.224,-0.309Z", "filled": true, "color": "black", "size": 600, "opacity": 1}},
          {"data": {"name": "a_sig"}, "mark": {"type": "circle", "color": "#f0648e", "size": 380, "opacity": 1}},
          {"data": {"name": "a_sig"}, "mark": {"type": "text", "text": "σ", "fontStyle": "italic", "fontSize": 48, "dx": -42, "dy": -34}},
          {"data": {"name": "a_sig"}, "mark": {"type": "text", "fontSize": 30, "align": "left", "dx": -30, "dy": -20}, "encoding": {"text": {"field": "k"}}},
          {"data": {"name": "a_lab"}, "mark": {"type": "text", "fontSize": 44, "dy": 27}, "encoding": {"text": {"field": "st"}}},
          {"data": {"values": [{"t": 450, "s": 0}]}, "mark": {"type": "text", "text": "(a)", "fontSize": 46, "dx": 152, "dy": -40}},
          {"data": {"values": [{"k": "Stress"}, {"k": "Ring-down count"}, {"k": "Cumulative ring-down count"}]}, "mark": {"type": "point", "filled": true, "opacity": 0},
           "encoding": {"x": {"datum": 0}, "y": {"datum": 0},
             "fill": {"field": "k", "type": "nominal", "scale": {"domain": ["Stress", "Ring-down count", "Cumulative ring-down count"], "range": ["black", "#f2709c", "#1a67aa"]}, "legend": {"title": null}},
             "stroke": {"field": "k", "type": "nominal", "scale": {"domain": ["Stress", "Ring-down count", "Cumulative ring-down count"], "range": ["black", "#f2709c", "#1a67aa"]}, "legend": {"title": null}},
             "shape": {"field": "k", "type": "nominal", "scale": {"domain": ["Stress", "Ring-down count", "Cumulative ring-down count"], "range": ["M-2,0H2M0,-0.55L0.13,-0.18L0.52,-0.17L0.21,0.07L0.32,0.45L0,0.22L-0.32,0.45L-0.21,0.07L-0.52,-0.17L-0.13,-0.18Z", "M-2,-1H2V1H-2Z", "M-2,0H2"]}, "legend": {"title": null}}}}
        ],
         "encoding": {"y": {"field": "s", "type": "quantitative", "scale": {"domain": [0, 12.5], "nice": false, "zero": false}, "axis": {"title": "Stress (MPa)", "orient": "left", "values": [0, 5, 10]}}}}
      ],
      "resolve": {"scale": {"y": "independent"}}
    },
    {
      "width": 1200, "height": 1080,
      "encoding": {"x": {"field": "t", "type": "quantitative", "scale": {"domain": [0, 550], "nice": false, "zero": false}, "axis": {"title": "Time (s)", "values": [0, 100, 200, 300, 400, 500]}}},
      "layer": [
        {"data": {"values": [{"t": 0, "t2": 550}]}, "mark": {"type": "rect", "fill": {"gradient": "linear", "x1": 0, "y1": 0, "x2": 0.35, "y2": 1, "stops": [{"offset": 0, "color": "#d2d3f6"}, {"offset": 0.4, "color": "#bfcaf6"}, {"offset": 0.85, "color": "#a0c6f8"}, {"offset": 1, "color": "#8fcef5"}]}}, "encoding": {"x2": {"field": "t2"}}},
        {"data": {"name": "b_stage"}, "mark": "rect", "encoding": {"x2": {"field": "t2"}, "color": {"field": "st", "type": "nominal", "scale": {"domain": ["I", "II", "III", "IV", "V"], "range": ["rgba(255,255,255,0)", "rgba(225,248,255,0.45)", "rgba(246,190,200,0.45)", "rgba(150,195,215,0.25)", "rgba(238,135,135,0.7)"]}, "legend": null}}},
        {"layer": [{"data": {"name": "b_rd"}, "mark": {"type": "bar", "size": 7, "color": "#f7598b", "opacity": 0.95}}],
         "encoding": {"y": {"field": "r", "type": "quantitative", "scale": {"domain": [0, 5], "nice": false, "zero": false}, "axis": {"title": "Ring-down count/1000", "orient": "right", "values": [0, 1, 2, 3, 4, 5], "domainColor": "#f2608e", "tickColor": "#f2608e", "labelColor": "#f2608e", "titleColor": "#f2608e", "titlePadding": 50}}}},
        {"data": {"name": "b_cum"}, "mark": {"type": "line", "color": "#1a67aa", "strokeWidth": 5}, "encoding": {"y": {"field": "c", "type": "quantitative", "scale": {"domain": [0, 20], "nice": false, "zero": false}, "axis": {"title": "Cumulative ring-down count/10000", "orient": "right", "offset": 172, "values": [0, 5, 10, 15, 20], "domainColor": "#1a67aa", "tickColor": "#1a67aa", "labelColor": "#1a67aa", "titleColor": "#1a67aa"}}}},
        {"data": {"name": "b_stage"}, "transform": [{"filter": "datum.t > 0"}], "mark": {"type": "rule", "color": "#4a2a70", "strokeDash": [10, 7], "strokeWidth": 2.5}},
        {"layer": [
          {"data": {"name": "b_s"}, "mark": {"type": "line", "color": "black", "strokeWidth": 4}},
          {"data": {"name": "b_star"}, "mark": {"type": "point", "shape": "M0,-1L0.224,-0.309L0.951,-0.309L0.363,0.118L0.588,0.809L0,0.382L-0.588,0.809L-0.363,0.118L-0.951,-0.309L-0.224,-0.309Z", "filled": true, "color": "black", "size": 600, "opacity": 1}},
          {"data": {"name": "b_sig"}, "mark": {"type": "circle", "color": "#f0648e", "size": 380, "opacity": 1}},
          {"data": {"name": "b_sig"}, "mark": {"type": "text", "text": "σ", "fontStyle": "italic", "fontSize": 48, "dx": -42, "dy": -34}},
          {"data": {"name": "b_sig"}, "mark": {"type": "text", "fontSize": 30, "align": "left", "dx": -30, "dy": -20}, "encoding": {"text": {"field": "k"}}},
          {"data": {"name": "b_lab"}, "mark": {"type": "text", "fontSize": 44, "dy": 27}, "encoding": {"text": {"field": "st"}}},
          {"data": {"values": [{"t": 550, "s": 0}]}, "mark": {"type": "text", "text": "(b)", "fontSize": 46, "dx": 148, "dy": -40}},
          {"data": {"values": [{"k": "Stress"}, {"k": "Ring-down count"}, {"k": "Cumulative ring-down count"}]}, "mark": {"type": "point", "filled": true, "opacity": 0},
           "encoding": {"x": {"datum": 0}, "y": {"datum": 0},
             "fill": {"field": "k", "type": "nominal", "scale": {"domain": ["Stress", "Ring-down count", "Cumulative ring-down count"], "range": ["black", "#f2709c", "#1a67aa"]}, "legend": {"title": null}},
             "stroke": {"field": "k", "type": "nominal", "scale": {"domain": ["Stress", "Ring-down count", "Cumulative ring-down count"], "range": ["black", "#f2709c", "#1a67aa"]}, "legend": {"title": null}},
             "shape": {"field": "k", "type": "nominal", "scale": {"domain": ["Stress", "Ring-down count", "Cumulative ring-down count"], "range": ["M-2,0H2M0,-0.55L0.13,-0.18L0.52,-0.17L0.21,0.07L0.32,0.45L0,0.22L-0.32,0.45L-0.21,0.07L-0.52,-0.17L-0.13,-0.18Z", "M-2,-1H2V1H-2Z", "M-2,0H2"]}, "legend": {"title": null}}}}
        ],
         "encoding": {"y": {"field": "s", "type": "quantitative", "scale": {"domain": [0, 20], "nice": false, "zero": false}, "axis": {"title": "Stress (MPa)", "orient": "left", "values": [0, 5, 10, 15, 20]}}}}
      ],
      "resolve": {"scale": {"y": "independent"}}
    },
    {
      "width": 1200, "height": 1080,
      "encoding": {"x": {"field": "t", "type": "quantitative", "scale": {"domain": [0, 725], "nice": false, "zero": false}, "axis": {"title": "Time (s)", "values": [0, 100, 200, 300, 400, 500, 600, 700]}}},
      "layer": [
        {"data": {"values": [{"t": 0, "t2": 725}]}, "mark": {"type": "rect", "fill": {"gradient": "linear", "x1": 0, "y1": 0, "x2": 0.35, "y2": 1, "stops": [{"offset": 0, "color": "#d2d3f6"}, {"offset": 0.4, "color": "#bfcaf6"}, {"offset": 0.85, "color": "#a0c6f8"}, {"offset": 1, "color": "#8fcef5"}]}}, "encoding": {"x2": {"field": "t2"}}},
        {"data": {"name": "c_stage"}, "mark": "rect", "encoding": {"x2": {"field": "t2"}, "color": {"field": "st", "type": "nominal", "scale": {"domain": ["I", "II", "III", "IV", "V"], "range": ["rgba(255,255,255,0)", "rgba(225,248,255,0.45)", "rgba(246,190,200,0.45)", "rgba(150,195,215,0.25)", "rgba(238,135,135,0.7)"]}, "legend": null}}},
        {"layer": [
          {"data": {"name": "c_rd"}, "mark": {"type": "bar", "size": 6, "color": "#f7598b", "opacity": 0.95}},
          {"data": {"values": [{"t": 725, "r": 3}]}, "mark": {"type": "text", "text": "//", "fontSize": 50, "fontWeight": "bold", "color": "#f2608e"}}
        ],
         "encoding": {"y": {"field": "r", "type": "quantitative", "scale": {"domain": [0, 3, 49.7, 60], "range": [1080, 548, 548, 0], "nice": false, "zero": false}, "axis": {"title": "Ring-down count/1000", "orient": "right", "values": [0, 1, 2, 55, 60], "domainColor": "#f2608e", "tickColor": "#f2608e", "labelColor": "#f2608e", "titleColor": "#f2608e", "titlePadding": 26}}}},
        {"data": {"name": "c_cum"}, "mark": {"type": "line", "color": "#1a67aa", "strokeWidth": 5}, "encoding": {"y": {"field": "c", "type": "quantitative", "scale": {"domain": [0, 20], "nice": false, "zero": false}, "axis": {"title": "Cumulative ring-down count/10000", "orient": "right", "offset": 178, "values": [0, 5, 10, 15, 20], "domainColor": "#1a67aa", "tickColor": "#1a67aa", "labelColor": "#1a67aa", "titleColor": "#1a67aa"}}}},
        {"data": {"name": "c_stage"}, "transform": [{"filter": "datum.t > 0"}], "mark": {"type": "rule", "color": "#4a2a70", "strokeDash": [10, 7], "strokeWidth": 2.5}},
        {"layer": [
          {"data": {"name": "c_s"}, "mark": {"type": "line", "color": "black", "strokeWidth": 4}},
          {"data": {"name": "c_star"}, "mark": {"type": "point", "shape": "M0,-1L0.224,-0.309L0.951,-0.309L0.363,0.118L0.588,0.809L0,0.382L-0.588,0.809L-0.363,0.118L-0.951,-0.309L-0.224,-0.309Z", "filled": true, "color": "black", "size": 600, "opacity": 1}},
          {"data": {"name": "c_sig"}, "mark": {"type": "circle", "color": "#f0648e", "size": 380, "opacity": 1}},
          {"data": {"name": "c_sig"}, "transform": [{"filter": "datum.k != 'ci'"}], "mark": {"type": "text", "text": "σ", "fontStyle": "italic", "fontSize": 48, "dx": -42, "dy": -34}},
          {"data": {"name": "c_sig"}, "transform": [{"filter": "datum.k != 'ci'"}], "mark": {"type": "text", "fontSize": 30, "align": "left", "dx": -30, "dy": -20}, "encoding": {"text": {"field": "k"}}},
          {"data": {"name": "c_sig"}, "transform": [{"filter": "datum.k == 'ci'"}], "mark": {"type": "text", "text": "σ", "fontStyle": "italic", "fontSize": 48, "dx": 30, "dy": 26}},
          {"data": {"name": "c_sig"}, "transform": [{"filter": "datum.k == 'ci'"}], "mark": {"type": "text", "fontSize": 30, "align": "left", "dx": 42, "dy": 38}, "encoding": {"text": {"field": "k"}}},
          {"data": {"name": "c_lab"}, "mark": {"type": "text", "fontSize": 44, "dy": 27}, "encoding": {"text": {"field": "st"}}},
          {"data": {"values": [{"t": 725, "s": 0}]}, "mark": {"type": "text", "text": "(c)", "fontSize": 46, "dx": 150, "dy": -40}},
          {"data": {"values": [{"k": "Stress"}, {"k": "Ring-down count"}, {"k": "Cumulative ring-down count"}]}, "mark": {"type": "point", "filled": true, "opacity": 0},
           "encoding": {"x": {"datum": 0}, "y": {"datum": 0},
             "fill": {"field": "k", "type": "nominal", "scale": {"domain": ["Stress", "Ring-down count", "Cumulative ring-down count"], "range": ["black", "#f2709c", "#1a67aa"]}, "legend": {"title": null}},
             "stroke": {"field": "k", "type": "nominal", "scale": {"domain": ["Stress", "Ring-down count", "Cumulative ring-down count"], "range": ["black", "#f2709c", "#1a67aa"]}, "legend": {"title": null}},
             "shape": {"field": "k", "type": "nominal", "scale": {"domain": ["Stress", "Ring-down count", "Cumulative ring-down count"], "range": ["M-2,0H2M0,-0.55L0.13,-0.18L0.52,-0.17L0.21,0.07L0.32,0.45L0,0.22L-0.32,0.45L-0.21,0.07L-0.52,-0.17L-0.13,-0.18Z", "M-2,-1H2V1H-2Z", "M-2,0H2"]}, "legend": {"title": null}}}}
        ],
         "encoding": {"y": {"field": "s", "type": "quantitative", "scale": {"domain": [0, 32.5], "nice": false, "zero": false}, "axis": {"title": "Stress (MPa)", "orient": "left", "values": [0, 5, 10, 15, 20, 25, 30]}}}}
      ],
      "resolve": {"scale": {"y": "independent"}}
    },
    {
      "width": 1200, "height": 1080,
      "encoding": {"x": {"field": "t", "type": "quantitative", "scale": {"domain": [0, 573], "nice": false, "zero": false}, "axis": {"title": "Time (s)", "values": [0, 100, 200, 300, 400, 500]}}},
      "layer": [
        {"data": {"values": [{"t": 0, "t2": 573}]}, "mark": {"type": "rect", "fill": {"gradient": "linear", "x1": 0, "y1": 0, "x2": 0.35, "y2": 1, "stops": [{"offset": 0, "color": "#d2d3f6"}, {"offset": 0.4, "color": "#bfcaf6"}, {"offset": 0.85, "color": "#a0c6f8"}, {"offset": 1, "color": "#8fcef5"}]}}, "encoding": {"x2": {"field": "t2"}}},
        {"data": {"name": "d_stage"}, "mark": "rect", "encoding": {"x2": {"field": "t2"}, "color": {"field": "st", "type": "nominal", "scale": {"domain": ["I", "II", "III", "IV", "V"], "range": ["rgba(255,255,255,0)", "rgba(225,248,255,0.45)", "rgba(246,190,200,0.45)", "rgba(150,195,215,0.25)", "rgba(238,135,135,0.7)"]}, "legend": null}}},
        {"layer": [
          {"data": {"name": "d_rd"}, "mark": {"type": "bar", "size": 8, "color": "#f7598b", "opacity": 0.95}},
          {"data": {"values": [{"t": 573, "r": 3}]}, "mark": {"type": "text", "text": "//", "fontSize": 50, "fontWeight": "bold", "color": "#f2608e"}}
        ],
         "encoding": {"y": {"field": "r", "type": "quantitative", "scale": {"domain": [0, 3, 8.3, 60], "range": [1080, 548, 548, 0], "nice": false, "zero": false}, "axis": {"title": "Ring-down count/1000", "orient": "right", "values": [0, 1, 2, 20, 30, 40, 50, 60], "domainColor": "#f2608e", "tickColor": "#f2608e", "labelColor": "#f2608e", "titleColor": "#f2608e", "titlePadding": 28}}}},
        {"data": {"name": "d_cum"}, "mark": {"type": "line", "color": "#1a67aa", "strokeWidth": 5}, "encoding": {"y": {"field": "c", "type": "quantitative", "scale": {"domain": [0, 30], "nice": false, "zero": false}, "axis": {"title": "Cumulative ring-down count/10000", "orient": "right", "offset": 172, "values": [0, 5, 10, 15, 20, 25, 30], "domainColor": "#1a67aa", "tickColor": "#1a67aa", "labelColor": "#1a67aa", "titleColor": "#1a67aa"}}}},
        {"data": {"name": "d_stage"}, "transform": [{"filter": "datum.t > 0"}], "mark": {"type": "rule", "color": "#4a2a70", "strokeDash": [10, 7], "strokeWidth": 2.5}},
        {"layer": [
          {"data": {"name": "d_s"}, "mark": {"type": "line", "color": "black", "strokeWidth": 4}},
          {"data": {"name": "d_star"}, "mark": {"type": "point", "shape": "M0,-1L0.224,-0.309L0.951,-0.309L0.363,0.118L0.588,0.809L0,0.382L-0.588,0.809L-0.363,0.118L-0.951,-0.309L-0.224,-0.309Z", "filled": true, "color": "black", "size": 600, "opacity": 1}},
          {"data": {"name": "d_sig"}, "mark": {"type": "circle", "color": "#f0648e", "size": 380, "opacity": 1}},
          {"data": {"name": "d_sig"}, "mark": {"type": "text", "text": "σ", "fontStyle": "italic", "fontSize": 48, "dx": -42, "dy": -34}},
          {"data": {"name": "d_sig"}, "mark": {"type": "text", "fontSize": 30, "align": "left", "dx": -30, "dy": -20}, "encoding": {"text": {"field": "k"}}},
          {"data": {"name": "d_lab"}, "mark": {"type": "text", "fontSize": 44, "dy": 27}, "encoding": {"text": {"field": "st"}}},
          {"data": {"values": [{"t": 573, "s": 0}]}, "mark": {"type": "text", "text": "(d)", "fontSize": 46, "dx": 148, "dy": -40}},
          {"data": {"values": [{"k": "Stress"}, {"k": "Ring-down count"}, {"k": "Cumulative ring-down count"}]}, "mark": {"type": "point", "filled": true, "opacity": 0},
           "encoding": {"x": {"datum": 0}, "y": {"datum": 0},
             "fill": {"field": "k", "type": "nominal", "scale": {"domain": ["Stress", "Ring-down count", "Cumulative ring-down count"], "range": ["black", "#f2709c", "#1a67aa"]}, "legend": {"title": null}},
             "stroke": {"field": "k", "type": "nominal", "scale": {"domain": ["Stress", "Ring-down count", "Cumulative ring-down count"], "range": ["black", "#f2709c", "#1a67aa"]}, "legend": {"title": null}},
             "shape": {"field": "k", "type": "nominal", "scale": {"domain": ["Stress", "Ring-down count", "Cumulative ring-down count"], "range": ["M-2,0H2M0,-0.55L0.13,-0.18L0.52,-0.17L0.21,0.07L0.32,0.45L0,0.22L-0.32,0.45L-0.21,0.07L-0.52,-0.17L-0.13,-0.18Z", "M-2,-1H2V1H-2Z", "M-2,0H2"]}, "legend": {"title": null}}}}
        ],
         "encoding": {"y": {"field": "s", "type": "quantitative", "scale": {"domain": [0, 22.5], "nice": false, "zero": false}, "axis": {"title": "Stress (MPa)", "orient": "left", "values": [0, 5, 10, 15, 20]}}}}
      ],
      "resolve": {"scale": {"y": "independent"}}
    },
    {
      "width": 1200, "height": 1080,
      "encoding": {"x": {"field": "t", "type": "quantitative", "scale": {"domain": [0, 576], "nice": false, "zero": false}, "axis": {"title": "Time (s)", "values": [0, 100, 200, 300, 400, 500]}}},
      "layer": [
        {"data": {"values": [{"t": 0, "t2": 576}]}, "mark": {"type": "rect", "fill": {"gradient": "linear", "x1": 0, "y1": 0, "x2": 0.35, "y2": 1, "stops": [{"offset": 0, "color": "#d2d3f6"}, {"offset": 0.4, "color": "#bfcaf6"}, {"offset": 0.85, "color": "#a0c6f8"}, {"offset": 1, "color": "#8fcef5"}]}}, "encoding": {"x2": {"field": "t2"}}},
        {"data": {"name": "e_stage"}, "mark": "rect", "encoding": {"x2": {"field": "t2"}, "color": {"field": "st", "type": "nominal", "scale": {"domain": ["I", "II", "III", "IV", "V"], "range": ["rgba(255,255,255,0)", "rgba(225,248,255,0.45)", "rgba(246,190,200,0.45)", "rgba(150,195,215,0.25)", "rgba(238,135,135,0.7)"]}, "legend": null}}},
        {"layer": [
          {"data": {"name": "e_rd"}, "mark": {"type": "bar", "size": 8, "color": "#f7598b", "opacity": 0.95}},
          {"data": {"values": [{"t": 576, "r": 3}]}, "mark": {"type": "text", "text": "//", "fontSize": 50, "fontWeight": "bold", "color": "#f2608e"}}
        ],
         "encoding": {"y": {"field": "r", "type": "quantitative", "scale": {"domain": [0, 3, 29.3, 50], "range": [1080, 540, 540, 0], "nice": false, "zero": false}, "axis": {"title": "Ring-down count/1000", "orient": "right", "values": [0, 1, 2, 35, 40, 45, 50], "domainColor": "#f2608e", "tickColor": "#f2608e", "labelColor": "#f2608e", "titleColor": "#f2608e", "titlePadding": 20}}}},
        {"data": {"name": "e_cum"}, "mark": {"type": "line", "color": "#1a67aa", "strokeWidth": 5}, "encoding": {"y": {"field": "c", "type": "quantitative", "scale": {"domain": [0, 20], "nice": false, "zero": false}, "axis": {"title": "Cumulative ring-down count/10000", "orient": "right", "offset": 172, "values": [0, 5, 10, 15, 20], "domainColor": "#1a67aa", "tickColor": "#1a67aa", "labelColor": "#1a67aa", "titleColor": "#1a67aa"}}}},
        {"data": {"name": "e_stage"}, "transform": [{"filter": "datum.t > 0"}], "mark": {"type": "rule", "color": "#4a2a70", "strokeDash": [10, 7], "strokeWidth": 2.5}},
        {"layer": [
          {"data": {"name": "e_s"}, "mark": {"type": "line", "color": "black", "strokeWidth": 4}},
          {"data": {"name": "e_star"}, "mark": {"type": "point", "shape": "M0,-1L0.224,-0.309L0.951,-0.309L0.363,0.118L0.588,0.809L0,0.382L-0.588,0.809L-0.363,0.118L-0.951,-0.309L-0.224,-0.309Z", "filled": true, "color": "black", "size": 600, "opacity": 1}},
          {"data": {"name": "e_sig"}, "mark": {"type": "circle", "color": "#f0648e", "size": 380, "opacity": 1}},
          {"data": {"name": "e_sig"}, "mark": {"type": "text", "text": "σ", "fontStyle": "italic", "fontSize": 48, "dx": -42, "dy": -34}},
          {"data": {"name": "e_sig"}, "mark": {"type": "text", "fontSize": 30, "align": "left", "dx": -30, "dy": -20}, "encoding": {"text": {"field": "k"}}},
          {"data": {"name": "e_lab"}, "mark": {"type": "text", "fontSize": 44, "dy": 27}, "encoding": {"text": {"field": "st"}}},
          {"data": {"values": [{"t": 576, "s": 0}]}, "mark": {"type": "text", "text": "(e)", "fontSize": 46, "dx": 148, "dy": -40}},
          {"data": {"values": [{"k": "Stress"}, {"k": "Ring-down count"}, {"k": "Cumulative ring-down count"}]}, "mark": {"type": "point", "filled": true, "opacity": 0},
           "encoding": {"x": {"datum": 0}, "y": {"datum": 0},
             "fill": {"field": "k", "type": "nominal", "scale": {"domain": ["Stress", "Ring-down count", "Cumulative ring-down count"], "range": ["black", "#f2709c", "#1a67aa"]}, "legend": {"title": null}},
             "stroke": {"field": "k", "type": "nominal", "scale": {"domain": ["Stress", "Ring-down count", "Cumulative ring-down count"], "range": ["black", "#f2709c", "#1a67aa"]}, "legend": {"title": null}},
             "shape": {"field": "k", "type": "nominal", "scale": {"domain": ["Stress", "Ring-down count", "Cumulative ring-down count"], "range": ["M-2,0H2M0,-0.55L0.13,-0.18L0.52,-0.17L0.21,0.07L0.32,0.45L0,0.22L-0.32,0.45L-0.21,0.07L-0.52,-0.17L-0.13,-0.18Z", "M-2,-1H2V1H-2Z", "M-2,0H2"]}, "legend": {"title": null}}}}
        ],
         "encoding": {"y": {"field": "s", "type": "quantitative", "scale": {"domain": [0, 20], "nice": false, "zero": false}, "axis": {"title": "Stress (MPa)", "orient": "left", "values": [0, 5, 10, 15, 20]}}}}
      ],
      "resolve": {"scale": {"y": "independent"}}
    },
    {
      "width": 1200, "height": 1080,
      "encoding": {"x": {"field": "t", "type": "quantitative", "scale": {"domain": [0, 700], "nice": false, "zero": false}, "axis": {"title": "Time (s)", "values": [0, 100, 200, 300, 400, 500, 600, 700]}}},
      "layer": [
        {"data": {"values": [{"t": 0, "t2": 700}]}, "mark": {"type": "rect", "fill": {"gradient": "linear", "x1": 0, "y1": 0, "x2": 0.35, "y2": 1, "stops": [{"offset": 0, "color": "#d2d3f6"}, {"offset": 0.4, "color": "#bfcaf6"}, {"offset": 0.85, "color": "#a0c6f8"}, {"offset": 1, "color": "#8fcef5"}]}}, "encoding": {"x2": {"field": "t2"}}},
        {"data": {"name": "f_stage"}, "mark": "rect", "encoding": {"x2": {"field": "t2"}, "color": {"field": "st", "type": "nominal", "scale": {"domain": ["I", "II", "III", "IV", "V"], "range": ["rgba(255,255,255,0)", "rgba(225,248,255,0.45)", "rgba(246,190,200,0.45)", "rgba(150,195,215,0.25)", "rgba(238,135,135,0.7)"]}, "legend": null}}},
        {"layer": [
          {"data": {"name": "f_rd"}, "mark": {"type": "bar", "size": 6, "color": "#f7598b", "opacity": 0.95}},
          {"data": {"values": [{"t": 700, "r": 2}]}, "mark": {"type": "text", "text": "//", "fontSize": 50, "fontWeight": "bold", "color": "#f2608e"}}
        ],
         "encoding": {"y": {"field": "r", "type": "quantitative", "scale": {"domain": [0, 2, 33.4, 250], "range": [1080, 548, 548, 0], "nice": false, "zero": false}, "axis": {"title": "Ring-down count/1000", "orient": "right", "values": [0, 1, 50, 100, 150, 200, 250], "domainColor": "#f2608e", "tickColor": "#f2608e", "labelColor": "#f2608e", "titleColor": "#f2608e", "titlePadding": 16}}}},
        {"data": {"name": "f_cum"}, "mark": {"type": "line", "color": "#1a67aa", "strokeWidth": 5}, "encoding": {"y": {"field": "c", "type": "quantitative", "scale": {"domain": [0, 30], "nice": false, "zero": false}, "axis": {"title": "Cumulative ring-down count/10000", "orient": "right", "offset": 168, "values": [0, 5, 10, 15, 20, 25, 30], "domainColor": "#1a67aa", "tickColor": "#1a67aa", "labelColor": "#1a67aa", "titleColor": "#1a67aa"}}}},
        {"data": {"name": "f_stage"}, "transform": [{"filter": "datum.t > 0"}], "mark": {"type": "rule", "color": "#4a2a70", "strokeDash": [10, 7], "strokeWidth": 2.5}},
        {"layer": [
          {"data": {"name": "f_s"}, "mark": {"type": "line", "color": "black", "strokeWidth": 4}},
          {"data": {"name": "f_star"}, "mark": {"type": "point", "shape": "M0,-1L0.224,-0.309L0.951,-0.309L0.363,0.118L0.588,0.809L0,0.382L-0.588,0.809L-0.363,0.118L-0.951,-0.309L-0.224,-0.309Z", "filled": true, "color": "black", "size": 600, "opacity": 1}},
          {"data": {"name": "f_sig"}, "mark": {"type": "circle", "color": "#f0648e", "size": 380, "opacity": 1}},
          {"data": {"name": "f_sig"}, "transform": [{"filter": "datum.k != 'ci'"}], "mark": {"type": "text", "text": "σ", "fontStyle": "italic", "fontSize": 48, "dx": -42, "dy": -34}},
          {"data": {"name": "f_sig"}, "transform": [{"filter": "datum.k != 'ci'"}], "mark": {"type": "text", "fontSize": 30, "align": "left", "dx": -30, "dy": -20}, "encoding": {"text": {"field": "k"}}},
          {"data": {"name": "f_sig"}, "transform": [{"filter": "datum.k == 'ci'"}], "mark": {"type": "text", "text": "σ", "fontStyle": "italic", "fontSize": 48, "dx": 30, "dy": 26}},
          {"data": {"name": "f_sig"}, "transform": [{"filter": "datum.k == 'ci'"}], "mark": {"type": "text", "fontSize": 30, "align": "left", "dx": 42, "dy": 38}, "encoding": {"text": {"field": "k"}}},
          {"data": {"name": "f_lab"}, "mark": {"type": "text", "fontSize": 44, "dy": 27}, "encoding": {"text": {"field": "st"}}},
          {"data": {"values": [{"t": 700, "s": 0}]}, "mark": {"type": "text", "text": "(f)", "fontSize": 46, "dx": 146, "dy": -40}},
          {"data": {"values": [{"k": "Stress"}, {"k": "Ring-down count"}, {"k": "Cumulative ring-down count"}]}, "mark": {"type": "point", "filled": true, "opacity": 0},
           "encoding": {"x": {"datum": 0}, "y": {"datum": 0},
             "fill": {"field": "k", "type": "nominal", "scale": {"domain": ["Stress", "Ring-down count", "Cumulative ring-down count"], "range": ["black", "#f2709c", "#1a67aa"]}, "legend": {"title": null}},
             "stroke": {"field": "k", "type": "nominal", "scale": {"domain": ["Stress", "Ring-down count", "Cumulative ring-down count"], "range": ["black", "#f2709c", "#1a67aa"]}, "legend": {"title": null}},
             "shape": {"field": "k", "type": "nominal", "scale": {"domain": ["Stress", "Ring-down count", "Cumulative ring-down count"], "range": ["M-2,0H2M0,-0.55L0.13,-0.18L0.52,-0.17L0.21,0.07L0.32,0.45L0,0.22L-0.32,0.45L-0.21,0.07L-0.52,-0.17L-0.13,-0.18Z", "M-2,-1H2V1H-2Z", "M-2,0H2"]}, "legend": {"title": null}}}}
        ],
         "encoding": {"y": {"field": "s", "type": "quantitative", "scale": {"domain": [0, 40], "nice": false, "zero": false}, "axis": {"title": "Stress (MPa)", "orient": "left", "values": [0, 5, 10, 15, 20, 25, 30, 35, 40]}}}}
      ],
      "resolve": {"scale": {"y": "independent"}}
    }
  ]
}
